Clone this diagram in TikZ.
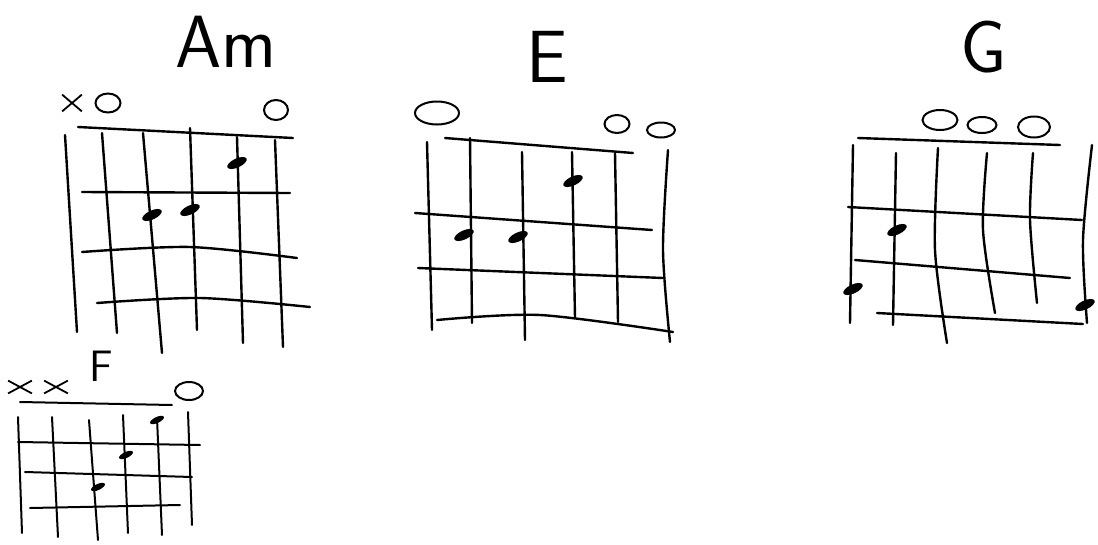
\documentclass[tikz,border=0pt]{standalone}
\usetikzlibrary{shapes.geometric,shapes.misc}

\begin{document}
\begin{tikzpicture}[
    x=1pt, y=-1pt,
    gridline/.style={draw=black, line width=2.4pt, line cap=round},
    smallgrid/.style={draw=black, line width=2pt, line cap=round},
    fingerdot/.style={ellipse, fill=black, minimum width=21pt, minimum height=9pt, inner sep=0pt, rotate=25},
    smalldot/.style={fingerdot, minimum width=15pt, minimum height=6pt},
    openmark/.style={ellipse, draw=black, line width=2pt, inner sep=0pt},
    mutemark/.style={cross out, draw=black, line width=1.8pt, minimum width=18pt, minimum height=15pt, inner sep=0pt},
    chordname/.style={font=\sffamily\fontsize{74}{74}\selectfont, inner sep=0pt}
]
\useasboundingbox (0,0) rectangle (1098,544);

% Am
\node[chordname] (am) at (226,42) {Am};
\node[mutemark] (amx) at (72,103) {};
\node[openmark, minimum width=25pt, minimum height=19pt] (amo1) at (108,103) {};
\node[openmark, minimum width=24pt, minimum height=20pt] (amo6) at (276,110) {};
\draw[gridline] (78,127) -- (293,138);
\draw[gridline] (65,135) -- (77,332);
\draw[gridline] (102,133) -- (117,333);
\draw[gridline] (143,133) -- (162,353);
\draw[gridline] (190,128) -- (197,330);
\draw[gridline] (237,137) -- (243,343);
\draw[gridline] (275,140) -- (283,347);
\draw[gridline] (82,192) -- (290,193);
\draw[gridline] plot[smooth] coordinates {(82,252) (190,247) (297,258)};
\draw[gridline] plot[smooth] coordinates {(97,303) (200,298) (310,307)};
\node[fingerdot] (amd1) at (237,163) {};
\node[fingerdot] (amd2) at (152,215) {};
\node[fingerdot] (amd3) at (190,210) {};

% E
\node[chordname] (e) at (547,57) {E};
\node[openmark, minimum width=44pt, minimum height=23pt] (eo1) at (437,113) {};
\node[openmark, minimum width=25pt, minimum height=18pt] (eo5) at (617,124) {};
\node[openmark, minimum width=28pt, minimum height=15pt] (eo6) at (661,130) {};
\draw[gridline] (445,138) -- (633,153);
\draw[gridline] (427,142) -- (432,330);
\draw[gridline] (470,138) -- (472,323);
\draw[gridline] (522,152) -- (525,340);
\draw[gridline] (572,152) -- (575,318);
\draw[gridline] (615,153) -- (618,322);
\draw[gridline] plot[smooth] coordinates {(668,150) (663,250) (670,342)};
\draw[gridline] (415,213) -- (652,230);
\draw[gridline] (418,268) -- (663,278);
\draw[gridline] plot[smooth] coordinates {(437,320) (540,315) (673,332)};
\node[fingerdot] (ed1) at (573,181) {};
\node[fingerdot] (ed2) at (464,235) {};
\node[fingerdot] (ed3) at (518,237) {};

% G
\node[chordname] (g) at (984,47) {G};
\node[openmark, minimum width=35pt, minimum height=20pt] (go3) at (940,120) {};
\node[openmark, minimum width=29pt, minimum height=16pt] (go4) at (982,125) {};
\node[openmark, minimum width=32pt, minimum height=21pt] (go5) at (1034,127) {};
\draw[gridline] (858,138) -- (1060,145);
\draw[gridline] (853,145) -- (850,323);
\draw[gridline] (896,153) -- (893,325);
\draw[gridline] plot[smooth] coordinates {(938,148) (935,250) (947,343)};
\draw[gridline] plot[smooth] coordinates {(987,153) (983,230) (995,313)};
\draw[gridline] plot[smooth] coordinates {(1033,153) (1030,220) (1037,303)};
\draw[gridline] plot[smooth] coordinates {(1092,145) (1083,240) (1087,323)};
\draw[gridline] (848,207) -- (1082,220);
\draw[gridline] (855,260) -- (1070,278);
\draw[gridline] (877,313) -- (1083,324);
\node[fingerdot] (gd1) at (897,230) {};
\node[fingerdot] (gd2) at (853,289) {};
\node[fingerdot] (gd3) at (1085,305) {};

% F
\node[chordname, font=\sffamily\fontsize{44}{44}\selectfont] (f) at (101,366) {F};
\node[mutemark, minimum width=22pt, minimum height=11pt] (fx1) at (20,387) {};
\node[mutemark, minimum width=22pt, minimum height=11pt] (fx2) at (56,387) {};
\node[openmark, minimum width=28pt, minimum height=18pt] (fo6) at (189,391) {};
\draw[smallgrid] (20,402) -- (172,405);
\draw[smallgrid] (18,417) -- (22,533);
\draw[smallgrid] (52,417) -- (58,537);
\draw[smallgrid] (89,420) -- (98,540);
\draw[smallgrid] (123,415) -- (128,533);
\draw[smallgrid] (157,418) -- (162,535);
\draw[smallgrid] (188,412) -- (192,525);
\draw[smallgrid] (18,442) -- (200,445);
\draw[smallgrid] (25,472) -- (192,477);
\draw[smallgrid] (30,508) -- (180,505);
\node[smalldot] (fd1) at (157,420) {};
\node[smalldot] (fd2) at (126,455) {};
\node[smalldot] (fd3) at (98,487) {};

\end{tikzpicture}
\end{document}
